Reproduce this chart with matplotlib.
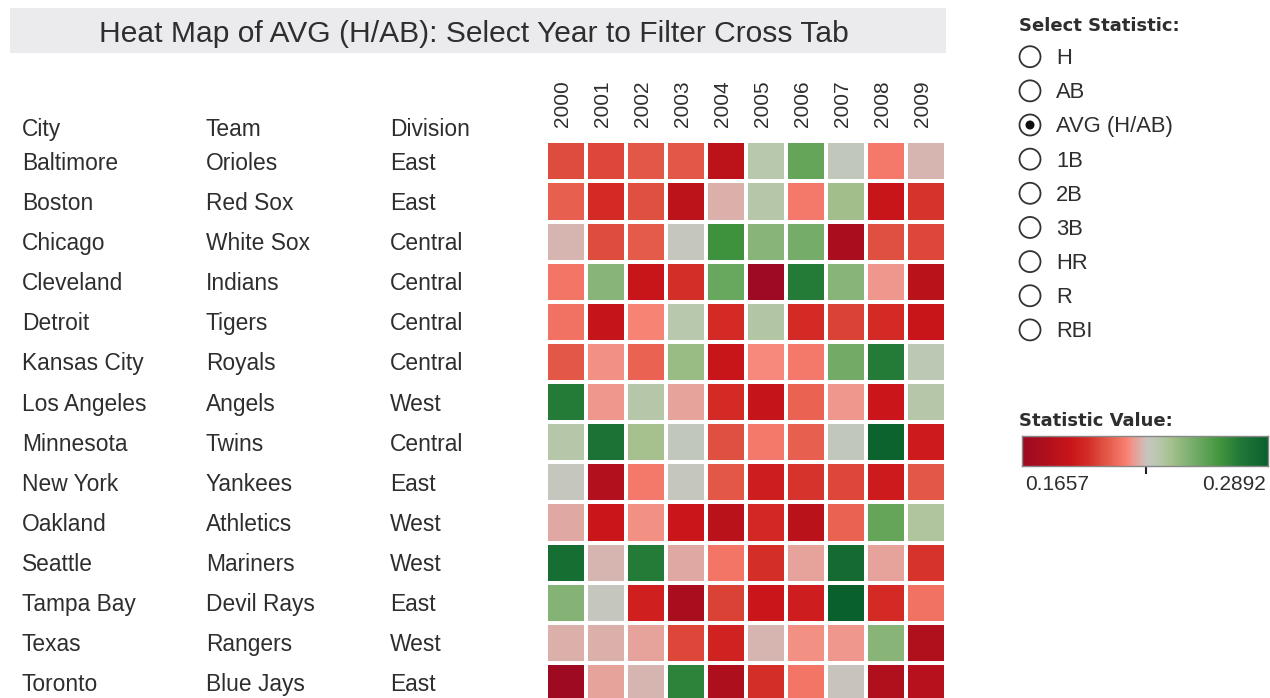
import numpy as np
import matplotlib
matplotlib.use("Agg")
import matplotlib.pyplot as plt
from matplotlib.colors import LinearSegmentedColormap, Normalize
from matplotlib.patches import Rectangle, Circle
from matplotlib.transforms import blended_transform_factory

# ---------------- data ----------------
years = ["2000", "2001", "2002", "2003", "2004", "2005", "2006", "2007", "2008", "2009"]
cities = ["Baltimore", "Boston", "Chicago", "Cleveland", "Detroit", "Kansas City", "Los Angeles",
          "Minnesota", "New York", "Oakland", "Seattle", "Tampa Bay", "Texas", "Toronto"]
teams = ["Orioles", "Red Sox", "White Sox", "Indians", "Tigers", "Royals", "Angels",
         "Twins", "Yankees", "Athletics", "Mariners", "Devil Rays", "Rangers", "Blue Jays"]
divisions = ["East", "East", "Central", "Central", "Central", "Central", "West",
             "Central", "East", "West", "West", "East", "West", "East"]

avg_baltimore = [0.205, 0.204, 0.208, 0.208, 0.184, 0.234, 0.256, 0.230, 0.216, 0.226]
avg_boston = [0.210, 0.198, 0.206, 0.184, 0.225, 0.235, 0.216, 0.241, 0.189, 0.200]
avg_chicago = [0.226, 0.205, 0.209, 0.229, 0.266, 0.247, 0.252, 0.173, 0.206, 0.204]
avg_cleveland = [0.215, 0.247, 0.189, 0.199, 0.255, 0.166, 0.274, 0.247, 0.221, 0.183]
avg_detroit = [0.214, 0.188, 0.218, 0.234, 0.198, 0.236, 0.198, 0.203, 0.198, 0.189]
avg_kansas_city = [0.208, 0.220, 0.211, 0.243, 0.189, 0.219, 0.216, 0.253, 0.274, 0.232]
avg_los_angeles = [0.274, 0.221, 0.235, 0.223, 0.198, 0.188, 0.211, 0.221, 0.190, 0.235]
avg_minnesota = [0.235, 0.279, 0.240, 0.230, 0.206, 0.216, 0.210, 0.230, 0.287, 0.192]
avg_new_york = [0.229, 0.179, 0.216, 0.229, 0.208, 0.193, 0.200, 0.204, 0.192, 0.208]
avg_oakland = [0.224, 0.190, 0.220, 0.190, 0.183, 0.197, 0.183, 0.211, 0.256, 0.237]
avg_seattle = [0.281, 0.226, 0.274, 0.224, 0.215, 0.199, 0.223, 0.283, 0.223, 0.200]
avg_tampa_bay = [0.248, 0.229, 0.194, 0.173, 0.203, 0.190, 0.193, 0.289, 0.198, 0.214]
avg_texas = [0.225, 0.225, 0.223, 0.204, 0.195, 0.226, 0.220, 0.221, 0.247, 0.178]
avg_toronto = [0.167, 0.223, 0.226, 0.271, 0.177, 0.199, 0.215, 0.228, 0.178, 0.181]

stat_options = ["H", "AB", "AVG (H/AB)", "1B", "2B", "3B", "HR", "R", "RBI"]
selected_stat = "AVG (H/AB)"
vmin, vmax = 0.1657, 0.2892

data = np.array([avg_baltimore, avg_boston, avg_chicago, avg_cleveland, avg_detroit,
                 avg_kansas_city, avg_los_angeles, avg_minnesota, avg_new_york, avg_oakland,
                 avg_seattle, avg_tampa_bay, avg_texas, avg_toronto])

# ---------------- style ----------------
W, H = 1270, 698
TXT = "#2e2e2e"
REG = ["Liberation Sans", "DejaVu Sans"]
BOLD = ["DejaVu Sans"]

cmap = LinearSegmentedColormap.from_list("rdgn_tab", [
    (0.00, "#9e0a24"), (0.10, "#b0101c"), (0.20, "#cb161a"), (0.27, "#d42e28"),
    (0.32, "#de4d3e"), (0.36, "#e8604f"), (0.41, "#f67a6c"), (0.43, "#f8877a"),
    (0.45, "#ee9a90"), (0.47, "#e0a8a2"), (0.49, "#d4b8b4"), (0.51, "#c6c6c0"),
    (0.55, "#b8c8ae"), (0.60, "#a8c290"), (0.66, "#88b478"), (0.72, "#6aa860"),
    (0.80, "#44963e"), (0.88, "#237a38"), (1.00, "#0a602c")])
norm = Normalize(vmin=vmin, vmax=vmax)

fig = plt.figure(figsize=(W / 100, H / 100), dpi=100)
fig.patch.set_facecolor("white")

# overlay axes in pixel coordinates
ov = fig.add_axes([0, 0, 1, 1], zorder=0)
ov.set_xlim(0, W)
ov.set_ylim(H, 0)
ov.axis("off")

# title box
ov.add_patch(Rectangle((10, 8), 936, 45, facecolor="#ebebee", edgecolor="none"))
ov.text(474, 42.5, "Heat Map of AVG (H/AB): Select Year to Filter Cross Tab",
        ha="center", va="baseline", fontsize=21.6, color=TXT, family=REG)

# heatmap axes
x0, x1 = 546.3, 946.3
y0 = 141.3
pitch_y = 40.13
y1 = y0 + pitch_y * len(cities)
ax = fig.add_axes([x0 / W, 1 - y1 / H, (x1 - x0) / W, (y1 - y0) / H], zorder=1)
ax.pcolormesh(np.arange(len(years) + 1), np.arange(len(cities) + 1), data,
              cmap=cmap, norm=norm, edgecolors="white", linewidth=2.8)
ax.set_xlim(0, len(years))
ax.set_ylim(len(cities), 0)
ax.axis("off")

# year labels
for i, yr in enumerate(years):
    ax.text(i + 0.5 - 0.1, -0.36, yr, rotation=90, ha="center", va="bottom",
            fontsize=15, color=TXT, family=REG, clip_on=False)

# row labels
tr = blended_transform_factory(ov.transData, ax.transData)
col_x = [22, 206, 390]
for cx, head in zip(col_x, ["City", "Team", "Division"]):
    ov.text(cx, -0.13, head, transform=tr, ha="left", va="baseline",
            fontsize=16.4, color=TXT, family=REG)
for r in range(len(cities)):
    for cx, lab in zip(col_x, [cities[r], teams[r], divisions[r]]):
        ov.text(cx, r + 0.71, lab, transform=tr, ha="left", va="baseline",
                fontsize=16.4, color=TXT, family=REG)

# select statistic panel
ov.text(1019, 30.7, "Select Statistic:", ha="left", va="baseline", fontsize=13,
        fontweight="bold", color=TXT, family=BOLD)
radio_y0, radio_pitch = 56.7, 34.15
for k, opt in enumerate(stat_options):
    cy = radio_y0 + k * radio_pitch
    ov.add_patch(Circle((1030, cy), 10.5, facecolor="white", edgecolor="#333333", lw=1.3))
    if opt == selected_stat:
        ov.add_patch(Circle((1030, cy), 4.5, facecolor="#111111", edgecolor="none"))
    ov.text(1056, cy + 7.4, opt, ha="left", va="baseline", fontsize=15.8, color=TXT, family=REG)

# colour legend
ov.text(1019, 426, "Statistic Value:", ha="left", va="baseline", fontsize=13,
        fontweight="bold", color=TXT, family=BOLD)
cb_l, cb_r, cb_t, cb_b = 1022, 1268, 436, 466
cax = fig.add_axes([cb_l / W, 1 - cb_b / H, (cb_r - cb_l) / W, (cb_b - cb_t) / H], zorder=1)
grad = np.linspace(vmin, vmax, 512)[None, :]
cax.imshow(grad, aspect="auto", cmap=cmap, norm=norm, extent=(vmin, vmax, 0, 1))
cax.set_xticks([])
cax.set_yticks([])
for s in cax.spines.values():
    s.set_color("#888888")
    s.set_linewidth(1.0)
ov.plot([1145.5, 1145.5], [463, 473], color="#222222", lw=1.5)
ov.text(1025, 490, f"{vmin:.4f}", ha="left", va="baseline", fontsize=15, color=TXT, family=REG)
ov.text(1266, 490, f"{vmax:.4f}", ha="right", va="baseline", fontsize=15, color=TXT, family=REG)

fig.savefig("out.png", dpi=100, facecolor="white")
